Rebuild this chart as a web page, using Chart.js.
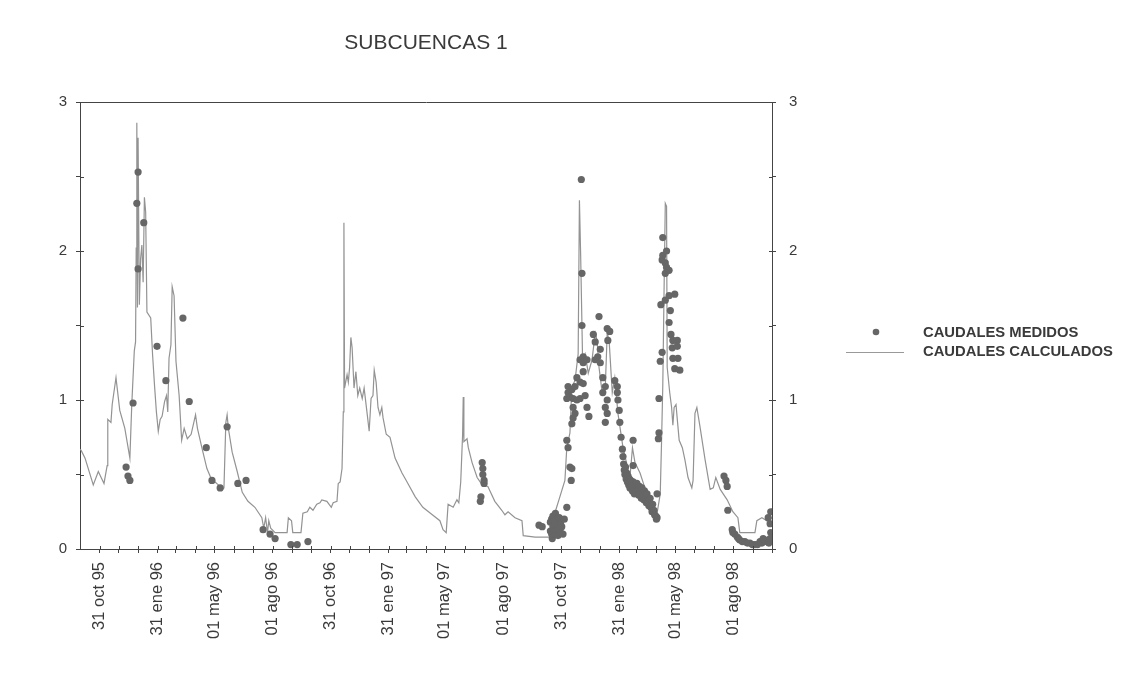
<!DOCTYPE html>
<html>
<head>
<meta charset="utf-8">
<title>SUBCUENCAS 1</title>
<script src="https://cdn.jsdelivr.net/npm/chart.js@4.4.1/dist/chart.umd.min.js"></script>
<style>
  html, body { margin: 0; padding: 0; background: #fff; }
  #wrap { width: 1124px; height: 673px; }
</style>
</head>
<body>
<div id="wrap"><canvas id="chart" width="1124" height="673"></canvas></div>
<script>
// days counted from 30 sep 1995
const monthEndDays = [31, 61, 92, 123, 152, 183, 213, 244, 274, 305, 336, 366,
  397, 427, 458, 489, 517, 548, 578, 609, 639, 670, 701, 731,
  762, 792, 823, 854, 882, 913, 943, 974, 1004, 1035, 1066, 1096];
const labelDays = [31, 123, 213, 305, 397, 489, 578, 670, 762, 854, 943, 1035];
const xLabels = ['31 oct 95', '31 ene 96', '01 may 96', '01 ago 96', '31 oct 96', '31 ene 97',
  '01 may 97', '01 ago 97', '31 oct 97', '31 ene 98', '01 may 98', '01 ago 98'];
const yTicks = [0, 0.5, 1, 1.5, 2, 2.5, 3];

// CAUDALES CALCULADOS  [day, m3/s]
const calcPoints = [
  [0,0.67],[2,0.66],[8,0.61],[21,0.43],[29,0.52],[38,0.44],[43,0.56],[44,0.87],[49,0.85],[51,0.97],
  [57,1.15],[63,0.93],[71,0.81],[79,0.61],[82,0.97],[86,1.33],[88,1.39],[89,2.02],[90,2.86],[91,1.62],
  [92,2.76],[94,1.64],[96,1.95],[98,2.04],[100,1.79],[102,2.36],[104,2.26],[106,1.59],[112,1.55],[115,1.30],
  [118,1.10],[121,0.92],[124,0.79],[127,0.87],[130,0.89],[134,0.99],[137,1.03],[139,0.92],[141,1.28],[144,1.37],
  [146,1.76],[149,1.70],[152,1.26],[157,1.03],[161,0.73],[165,0.81],[170,0.74],[176,0.77],[183,0.90],[186,0.81],
  [193,0.68],[201,0.54],[209,0.46],[214,0.45],[219,0.43],[225,0.40],[228,0.41],[231,0.85],[233,0.90],[235,0.81],
  [241,0.65],[249,0.52],[257,0.38],[266,0.32],[277,0.28],[288,0.21],[291,0.14],[294,0.21],[297,0.11],[299,0.19],
  [302,0.14],[309,0.11],[328,0.11],[330,0.21],[335,0.19],[337,0.11],[350,0.11],[353,0.24],[360,0.25],[364,0.28],
  [369,0.26],[375,0.30],[380,0.31],[383,0.33],[391,0.32],[398,0.28],[401,0.31],[407,0.32],[409,0.44],[412,0.45],
  [415,0.54],[417,0.92],[418,2.19],[419,1.08],[423,1.17],[425,1.12],[427,1.22],[429,1.42],[431,1.35],[434,1.08],
  [437,1.19],[440,1.03],[443,1.08],[447,1.01],[450,1.08],[455,0.90],[458,0.79],[461,1.01],[464,1.03],[466,1.20],
  [469,1.12],[472,0.95],[475,0.90],[478,0.95],[480,0.88],[485,0.77],[491,0.75],[499,0.61],[510,0.51],[518,0.45],
  [531,0.35],[543,0.28],[558,0.23],[570,0.19],[575,0.13],[580,0.11],[583,0.30],[591,0.28],[597,0.33],[600,0.31],
  [603,0.45],[606,0.77],[607,1.02],[608,0.72],[613,0.74],[615,0.68],[621,0.58],[629,0.48],[637,0.43],[646,0.42],
  [657,0.32],[668,0.26],[673,0.23],[678,0.25],[689,0.21],[700,0.19],[702,0.09],[721,0.08],[745,0.08],[749,0.14],
  [752,0.24],[760,0.35],[768,0.46],[771,0.68],[776,0.78],[779,1.09],[784,1.13],[789,1.31],[791,2.34],[793,1.96],
  [796,1.27],[800,1.31],[805,1.18],[811,1.27],[816,1.45],[819,1.40],[822,1.22],[827,1.05],[832,1.09],[835,1.45],
  [838,1.40],[843,1.05],[847,1.15],[852,0.91],[860,0.68],[871,0.48],[875,0.68],[879,0.58],[887,0.51],[897,0.38],
  [906,0.28],[914,0.24],[919,0.37],[921,0.71],[923,1.09],[925,1.72],[927,2.32],[929,2.30],[930,1.22],[934,1.05],
  [937,0.95],[939,0.83],[941,0.95],[944,0.97],[946,0.87],[949,0.73],[954,0.68],[958,0.60],[963,0.48],[969,0.41],
  [971,0.46],[974,0.91],[977,0.95],[982,0.82],[990,0.60],[998,0.40],[1003,0.41],[1007,0.48],[1014,0.40],[1025,0.33],
  [1034,0.25],[1042,0.21],[1045,0.11],[1069,0.11],[1072,0.19],[1080,0.21],[1088,0.19],[1096,0.21]
];

// CAUDALES MEDIDOS  [day, m3/s]
const measPoints = [
  [73,0.55],[76,0.49],[79,0.46],[84,0.98],[90,2.32],[92,2.53],[92,1.88],[101,2.19],[122,1.36],[136,1.13],
  [163,1.55],[173,0.99],[200,0.68],[209,0.46],[222,0.41],[233,0.82],[250,0.44],[263,0.46],[290,0.13],[301,0.10],
  [309,0.07],[334,0.03],[344,0.03],[361,0.05],
  [634,0.32],[635,0.35],[637,0.58],[638,0.54],[638,0.50],[640,0.46],[640,0.44],[727,0.16],[732,0.15],[748,0.07],
  [745,0.12],[745,0.18],[747,0.10],[747,0.20],[749,0.15],[749,0.22],[751,0.12],[751,0.19],[753,0.10],[753,0.17],
  [753,0.24],[755,0.13],[755,0.20],[757,0.09],[757,0.16],[759,0.13],[759,0.21],[761,0.11],[761,0.17],[763,0.15],
  [765,0.10],[767,0.20],[771,0.28],
  [771,0.73],[773,0.68],[776,0.55],[778,0.46],[779,0.54],[771,1.01],[773,1.05],[773,1.09],[776,1.02],[779,1.07],
  [779,0.84],[781,1.01],[781,0.95],[781,0.88],[784,0.91],[784,1.09],[787,1.00],[787,1.15],[792,1.01],[792,1.12],
  [792,1.27],[794,2.48],[795,1.85],[795,1.50],[797,1.11],[797,1.19],[797,1.25],[797,1.29],[800,1.03],[803,0.95],
  [803,1.27],[806,0.89],[813,1.44],[816,1.39],[816,1.27],[820,1.29],[822,1.56],[824,1.34],[824,1.25],[828,1.15],
  [828,1.05],[832,1.09],[832,0.95],[832,0.85],[835,1.00],[835,0.91],[835,1.48],[836,1.40],[839,1.46],
  [847,1.13],[851,1.09],[851,1.05],[852,1.00],[854,0.93],[855,0.85],[857,0.75],[859,0.67],
  [860,0.62],[861,0.57],[862,0.53],[863,0.50],[864,0.55],[865,0.47],[866,0.51],[867,0.45],[868,0.49],[869,0.43],
  [870,0.47],[871,0.41],[872,0.46],[874,0.42],[875,0.39],[876,0.45],[876,0.73],[876,0.56],[877,0.41],[878,0.37],
  [880,0.43],[881,0.38],[882,0.44],[884,0.40],[885,0.36],[886,0.42],[888,0.38],[889,0.34],[890,0.41],[892,0.36],
  [893,0.33],[894,0.39],[896,0.35],[897,0.31],[898,0.37],[900,0.32],[901,0.29],[903,0.34],[904,0.28],[906,0.25],
  [907,0.30],[909,0.26],[910,0.23],[912,0.22],[913,0.20],[914,0.21],
  [914,0.37],[916,0.74],[917,0.78],[917,1.01],[919,1.26],[920,1.64],[922,1.32],[922,1.94],[923,1.97],[923,2.09],
  [927,1.92],[927,1.85],[927,1.67],[929,2.00],[929,1.89],[933,1.87],[933,1.70],[933,1.52],[935,1.60],[936,1.44],
  [938,1.35],[939,1.40],[939,1.28],[942,1.71],[942,1.21],[946,1.40],[946,1.36],[947,1.28],[950,1.20],
  [1020,0.49],[1023,0.46],[1025,0.42],[1026,0.26],[1033,0.13],[1034,0.11],[1037,0.10],[1041,0.08],[1043,0.07],[1045,0.06],
  [1049,0.05],[1053,0.05],[1057,0.04],[1061,0.04],[1065,0.03],[1069,0.03],[1073,0.03],[1077,0.05],[1080,0.04],[1082,0.07],
  [1085,0.06],[1088,0.05],[1090,0.21],[1091,0.04],[1093,0.07],[1093,0.17],[1094,0.11],[1094,0.25]
];

const FONT = '"Liberation Sans", Arial, sans-serif';
const axisColor = '#444';
const textColor = '#3a3a3a';

// box round the plot, inward half of the tick marks, title and legend
const framePlugin = {
  id: 'frame',
  afterDraw(chart) {
    const ctx = chart.ctx;
    const a = chart.chartArea;
    const sx = chart.scales.x, sy = chart.scales.y;
    ctx.save();
    ctx.strokeStyle = axisColor;
    ctx.lineWidth = 1;
    ctx.beginPath();
    ctx.moveTo(a.left + 0.5, a.top + 0.5);
    ctx.lineTo(a.right + 0.5, a.top + 0.5);
    yTicks.forEach(v => {
      const y = Math.round(sy.getPixelForValue(v)) + 0.5;
      ctx.moveTo(a.left, y); ctx.lineTo(a.left + 4, y);
      ctx.moveTo(a.right - 3, y); ctx.lineTo(a.right + 1, y);
    });
    monthEndDays.forEach(d => {
      const x = Math.round(sx.getPixelForValue(d)) + 0.5;
      ctx.moveTo(x, a.bottom - 3); ctx.lineTo(x, a.bottom);
    });
    ctx.stroke();

    // title
    ctx.fillStyle = textColor;
    ctx.font = '21px ' + FONT;
    ctx.textAlign = 'center';
    ctx.textBaseline = 'middle';
    ctx.fillText('SUBCUENCAS 1', (a.left + a.right) / 2, 43);

    // legend
    ctx.fillStyle = '#666';
    ctx.beginPath();
    ctx.arc(876, 332, 3.3, 0, Math.PI * 2);
    ctx.fill();
    ctx.strokeStyle = '#999';
    ctx.beginPath();
    ctx.moveTo(846, 352.5); ctx.lineTo(904, 352.5);
    ctx.stroke();
    ctx.fillStyle = textColor;
    ctx.font = 'bold 14.8px ' + FONT;
    ctx.textAlign = 'left';
    ctx.fillText('CAUDALES MEDIDOS', 923, 333);
    ctx.fillText('CAUDALES CALCULADOS', 923, 352);
    ctx.restore();
  }
};

const yAxis = (pos, width) => ({
  position: pos,
  min: 0,
  max: 3,
  afterBuildTicks: s => { s.ticks = yTicks.map(v => ({ value: v })); },
  afterFit: s => { s.width = width; },
  ticks: {
    font: { family: FONT, size: 15 },
    color: textColor,
    padding: pos === 'left' ? 9 : 13,
    callback: v => Number.isInteger(v) ? String(v) : ''
  },
  grid: { drawOnChartArea: false, drawTicks: true, tickLength: 4, color: axisColor },
  border: { display: true, color: axisColor }
});

new Chart(document.getElementById('chart'), {
  type: 'scatter',
  data: {
    datasets: [
      {
        label: 'CAUDALES MEDIDOS',
        data: measPoints.map(p => ({ x: p[0], y: p[1] })),
        pointRadius: 3.6,
        pointBackgroundColor: '#666',
        pointBorderWidth: 0,
        showLine: false,
        order: 0
      },
      {
        label: 'CAUDALES CALCULADOS',
        data: calcPoints.map(p => ({ x: p[0], y: p[1] })),
        showLine: true,
        borderColor: '#939393',
        borderWidth: 1.2,
        pointRadius: 0,
        tension: 0,
        order: 1
      }
    ]
  },
  options: {
    responsive: false,
    animation: false,
    layout: { padding: { top: 102, left: 0, right: 0, bottom: 0 } },
    plugins: {
      legend: { display: false },
      title: { display: false },
      tooltip: { enabled: false }
    },
    scales: {
      x: {
        type: 'linear',
        min: 0,
        max: 1096,
        afterBuildTicks: s => { s.ticks = monthEndDays.map(v => ({ value: v })); },
        afterFit: s => { s.height = 124; },
        ticks: {
          autoSkip: false,
          minRotation: 90,
          maxRotation: 90,
          padding: 9,
          font: { family: FONT, size: 16.5 },
          color: textColor,
          callback: v => {
            const i = labelDays.indexOf(v);
            return i >= 0 ? xLabels[i] : '';
          }
        },
        grid: { drawOnChartArea: false, drawTicks: true, tickLength: 4, color: axisColor },
        border: { display: true, color: axisColor }
      },
      y: yAxis('left', 80),
      y2: yAxis('right', 352)
    }
  },
  plugins: [framePlugin]
});
</script>
</body>
</html>
